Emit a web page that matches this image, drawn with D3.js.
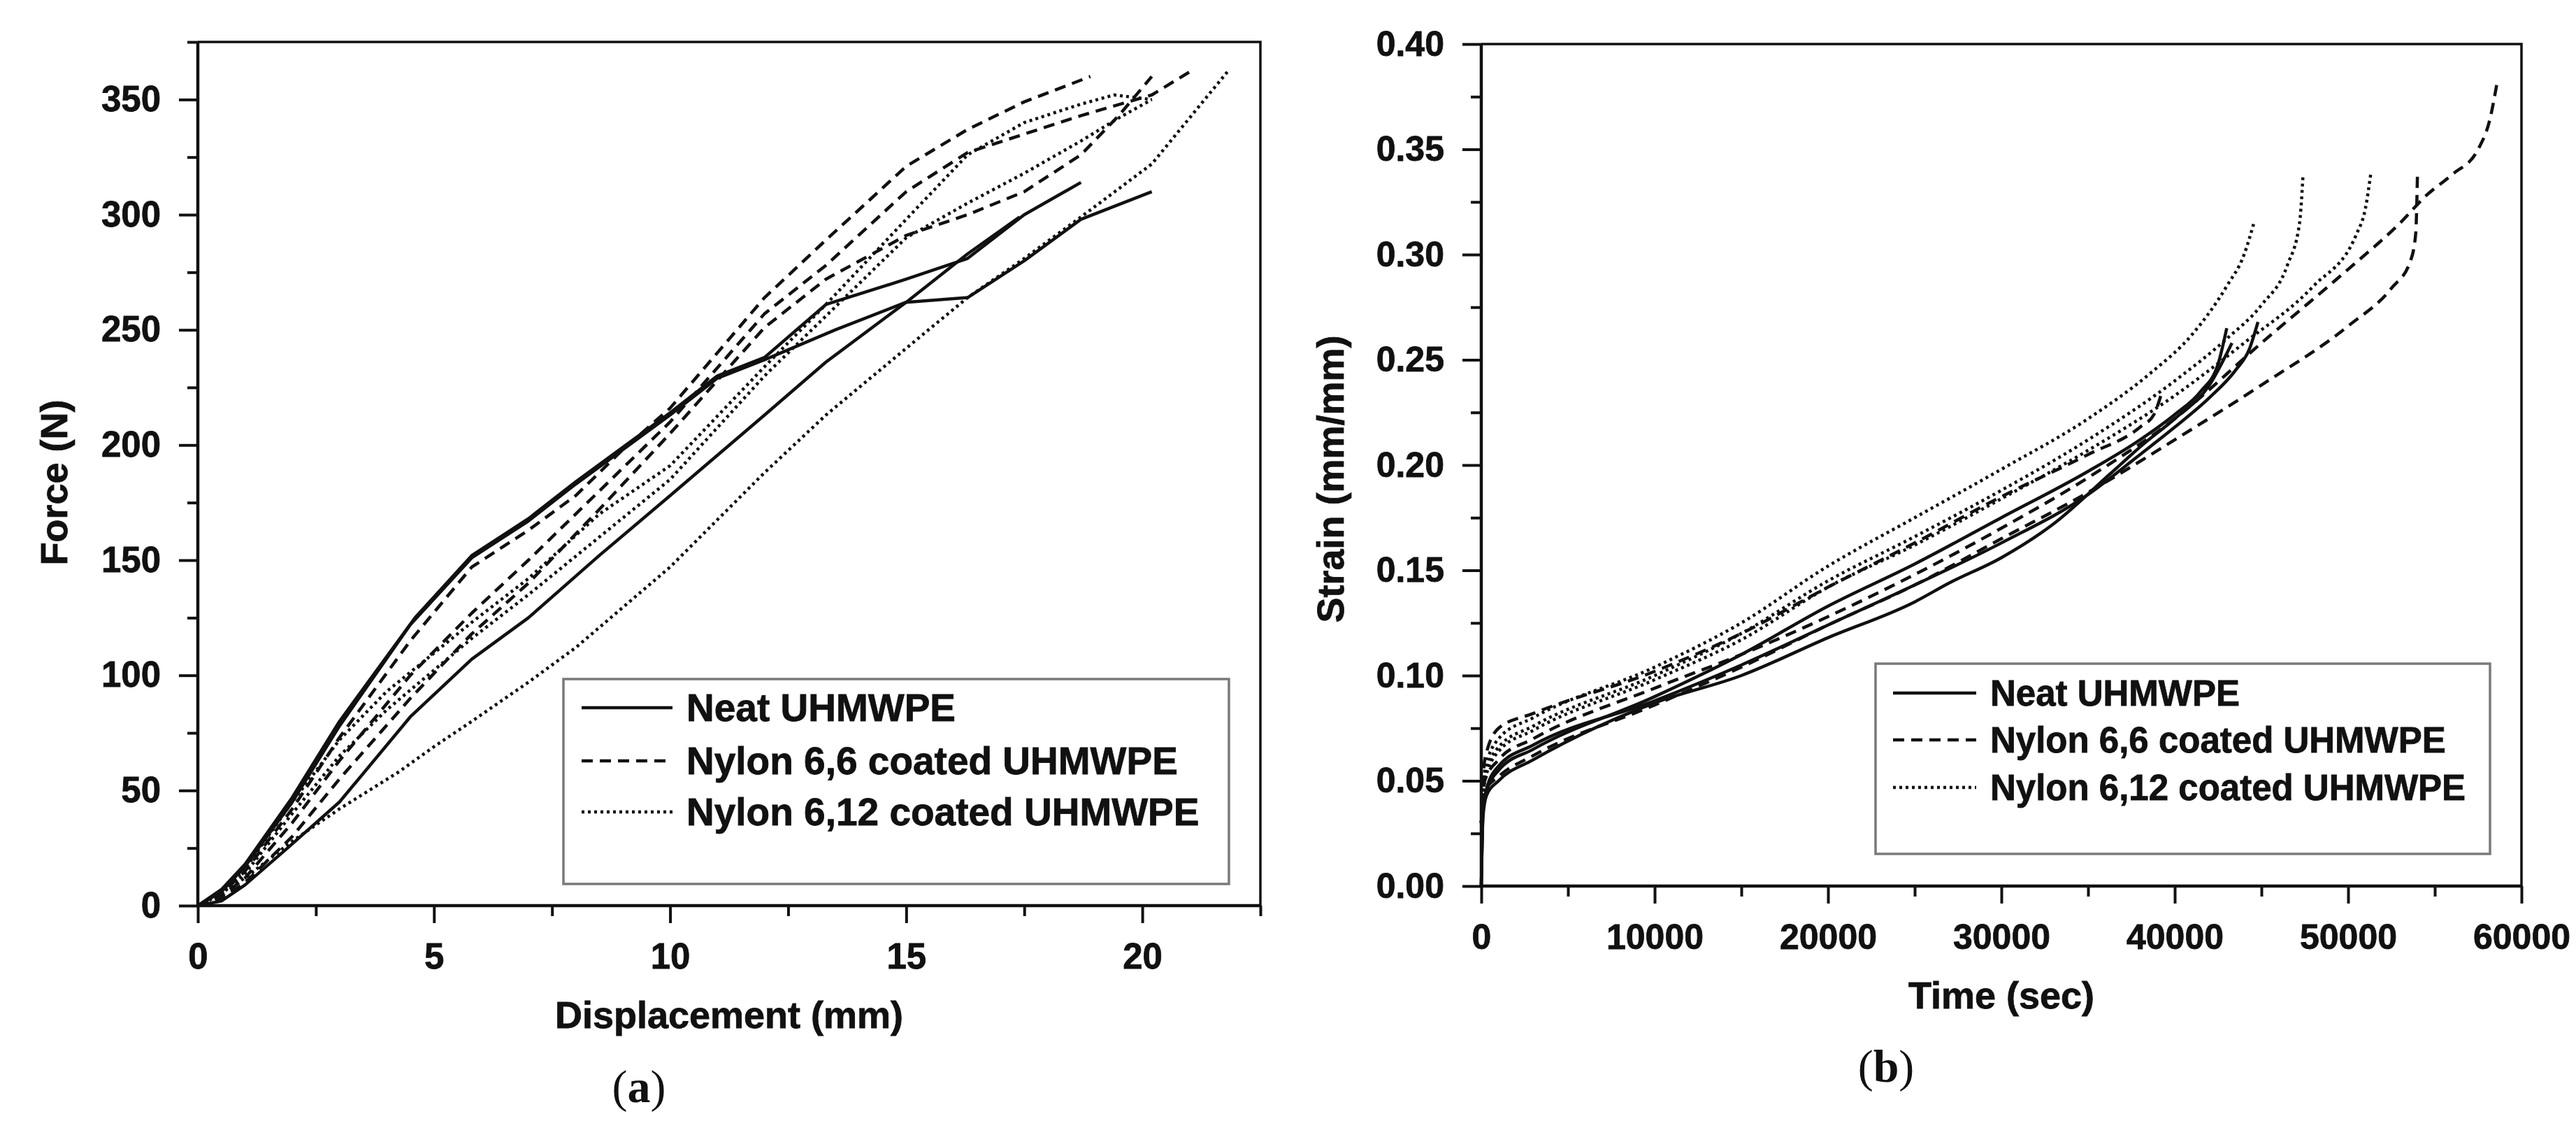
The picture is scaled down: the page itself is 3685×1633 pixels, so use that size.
<!DOCTYPE html>
<html>
<head>
<meta charset="utf-8">
<script src="https://cdn.jsdelivr.net/npm/d3@7"></script>
<style>
  body { margin: 0; background: #fff; }
  .tick text { font-family: "Liberation Sans", Arial, sans-serif; font-weight: bold; }
  .title, .legend text { font-family: "Liberation Sans", Arial, sans-serif; font-weight: bold; }
</style>
</head>
<body>
<div id="chart"></div>
<script>
/* CONSTANTS */
const width = 3685, height = 1633;
const ink = "#111";

/* DATA - panel (a): displacement (mm) vs force (N) */
const neatA1 = [[0,0],[0.5,7],[1,18],[2,47],[3,80],[4.6,125],[5.8,152],[7,168],[8,184],[9,199],[10,214],[11,230],[12,238],[13.3,261],[15,272],[16.3,281],[17.5,300],[18.7,314]];
const neatA2 = [[0,0],[0.5,6],[1,17],[2,45],[3,78],[4.5,122],[5.8,151],[7,167],[8,183],[9,198],[10,213],[11,229],[12,237],[13.5,250],[15,262],[16.3,264],[17.5,280],[18.7,298],[20.2,310]];
const neatA3 = [[0,0],[0.5,2],[1,9],[1.9,25],[3,45],[4.5,82],[5.8,107],[7,125],[8.5,152],[10,178],[12,213],[13.3,236],[15,262],[16.3,283],[17.4,299]];
const nylon66A1 = [[0,0],[0.5,5],[1,15],[2,42],[3,73],[4.5,115],[5.8,147],[7,163],[8,178],[9,198],[10,216],[11,240],[12,264],[13.3,289],[15,321],[16.3,337],[17.5,349],[18.9,360]];
const nylon66A2 = [[0,0],[0.5,4],[1,12],[2,36],[3,63],[4.5,100],[5.8,127],[7,150],[8.5,180],[10,210],[12,257],[13.3,278],[15,310],[16.3,327],[17.5,335],[18.7,343],[20.2,352],[21,362]];
const nylon66A3 = [[0,0],[0.5,3],[1,10],[2,30],[3,55],[4.5,90],[5.8,118],[7,140],[8.5,172],[10,205],[12,251],[13.3,272],[15,291],[16.3,300],[17.5,310],[18.7,326],[19.5,343],[20.2,360]];
const nylon612A1 = [[0,0],[1,12],[2,28],[3,42],[4.25,58],[5,69],[5.8,80],[7,97],[8,112],[10,147],[12,188],[13.3,213],[15,242],[16.3,264],[17.5,281],[18.7,299],[20.2,322],[21.8,362]];
const nylon612A2 = [[0,0],[0.5,5],[1,14],[2,40],[3,65],[4,85],[5.8,116],[7,135],[8.5,160],[10,185],[12,230],[13.3,256],[15,290],[16.3,305],[17.5,318],[18.7,332],[19.5,342],[20.2,350]];
const nylon612A3 = [[0,0],[0.5,6],[1,16],[2,45],[3,72],[4,93],[5.8,123],[7,142],[8.5,170],[10,191],[12,234],[13.3,261],[15,298],[16.3,326],[17.5,340],[18.7,348],[19.4,352],[20.2,350]];

/* DATA - panel (b): time (sec) vs strain (mm/mm) */
const neatB1 = [[0,0],[100,0.035],[300,0.045],[1000,0.055],[3000,0.065],[10000,0.090],[15000,0.110],[20000,0.133],[25000,0.153],[30000,0.175],[35000,0.197],[38000,0.212],[40000,0.224],[41500,0.235],[42500,0.248],[43000,0.265]];
const neatB2 = [[0,0],[100,0.036],[300,0.046],[1000,0.057],[3000,0.067],[10000,0.088],[15000,0.105],[20000,0.124],[25000,0.143],[30000,0.163],[35000,0.186],[38000,0.205],[40000,0.218],[42000,0.232],[43500,0.245],[44300,0.255],[44800,0.268]];
const neatB3 = [[0,0],[100,0.033],[300,0.043],[1000,0.050],[3000,0.060],[10000,0.087],[15000,0.100],[20000,0.118],[25000,0.135],[27000,0.144],[30000,0.156],[33000,0.172],[36300,0.196],[38200,0.210],[40000,0.222],[42000,0.238],[43300,0.258]];
const nylon66B1 = [[0,0.03],[200,0.045],[1000,0.052],[3000,0.062],[10000,0.086],[15000,0.104],[20000,0.124],[25000,0.143],[30000,0.165],[35000,0.187],[40000,0.212],[45000,0.238],[50000,0.266],[52500,0.284],[53600,0.297],[53900,0.310],[54000,0.338]];
const nylon66B2 = [[0,0.03],[200,0.050],[1000,0.060],[3000,0.070],[10000,0.094],[15000,0.110],[20000,0.128],[25000,0.148],[30000,0.170],[35000,0.194],[40000,0.222],[45000,0.258],[50000,0.293],[53000,0.315],[54500,0.328],[56000,0.338],[57500,0.350],[58200,0.365],[58600,0.382]];
const nylon66B3 = [[0,0.03],[200,0.060],[1000,0.075],[3000,0.082],[10000,0.102],[15000,0.120],[20000,0.142],[25000,0.163],[30000,0.185],[35000,0.205],[38000,0.218],[38800,0.224],[39200,0.233]];
const nylon612B1 = [[0,0.03],[200,0.055],[1000,0.070],[3000,0.080],[10000,0.104],[15000,0.125],[20000,0.152],[25000,0.175],[30000,0.198],[35000,0.222],[38500,0.243],[41000,0.262],[43000,0.285],[44000,0.300],[44600,0.316]];
const nylon612B2 = [[0,0.03],[200,0.052],[1000,0.066],[3000,0.076],[10000,0.100],[15000,0.120],[20000,0.145],[25000,0.166],[30000,0.188],[35000,0.212],[40000,0.240],[43000,0.260],[45000,0.276],[46500,0.295],[47200,0.315],[47400,0.338]];
const nylon612B3 = [[0,0.03],[200,0.050],[1000,0.064],[3000,0.074],[10000,0.098],[15000,0.117],[20000,0.142],[25000,0.162],[30000,0.184],[35000,0.207],[40000,0.233],[44000,0.258],[48000,0.285],[50500,0.310],[51000,0.322],[51300,0.338]];

/* TICKS AND LABELS */
const dispMajor = [0, 5, 10, 15, 20];
const dispMinor = [2.5, 7.5, 12.5, 17.5, 22.5];
const forceMajor = [0, 50, 100, 150, 200, 250, 300, 350];
const forceMinor = [25, 75, 125, 175, 225, 275, 325, 375];
const timeMajor = [0, 10000, 20000, 30000, 40000, 50000, 60000];
const timeMinor = [5000, 15000, 25000, 35000, 45000, 55000];
const strainMajor = [0, 0.05, 0.10, 0.15, 0.20, 0.25, 0.30, 0.35, 0.40];
const strainMinor = [0.025, 0.075, 0.125, 0.175, 0.225, 0.275, 0.325, 0.375];
const legendLabels = ["Neat UHMWPE", "Nylon 6,6 coated UHMWPE", "Nylon 6,12 coated UHMWPE"];

const dashes = { solid: null, dashed: "16,10", dotted: "4,5" };
const lineWidth = 4.5;

const svg = d3.select("#chart")
  .append("svg")
  .attr("width", width)
  .attr("height", height)
  .style("background", "#fff");

function styleAxis(g) {
  g.select(".domain").remove();
  g.selectAll(".tick line").attr("stroke", ink).attr("stroke-width", 4);
  g.selectAll(".tick text").attr("fill", ink).attr("stroke", ink).attr("stroke-width", 0.8);
}

function drawPanel(p) {
  const x = d3.scaleLinear().domain(p.xDomain).range([p.left, p.right]);
  const y = d3.scaleLinear().domain(p.yDomain).range([p.bottom, p.top]);
  const g = svg.append("g");

  const line = d3.line().x(d => x(d[0])).y(d => y(d[1])).curve(p.curve);

  p.series.forEach(s => {
    s.curves.forEach(c => {
      g.append("path")
        .datum(c)
        .attr("d", line)
        .attr("fill", "none")
        .attr("stroke", ink)
        .attr("stroke-width", lineWidth)
        .attr("stroke-linejoin", "round")
        .attr("stroke-dasharray", dashes[s.style]);
    });
  });

  // x axis: major with labels, minor without
  g.append("g")
    .attr("transform", `translate(0,${p.bottom})`)
    .call(d3.axisBottom(x).tickValues(p.xMajor).tickSize(25).tickPadding(29).tickFormat(p.xFormat))
    .call(styleAxis)
    .selectAll("text").attr("font-size", p.tickFont);
  g.append("g")
    .attr("transform", `translate(0,${p.bottom})`)
    .call(d3.axisBottom(x).tickValues(p.xMinor).tickSize(15).tickFormat(""))
    .call(styleAxis);

  g.append("g")
    .attr("transform", `translate(${p.left},0)`)
    .call(d3.axisLeft(y).tickValues(p.yMajor).tickSize(27).tickPadding(26).tickFormat(p.yFormat))
    .call(styleAxis)
    .selectAll("text").attr("font-size", p.tickFont);
  g.append("g")
    .attr("transform", `translate(${p.left},0)`)
    .call(d3.axisLeft(y).tickValues(p.yMinor).tickSize(15).tickFormat(""))
    .call(styleAxis);

  // frame
  g.append("path")
    .attr("d", `M${p.left},${p.top}V${p.bottom}H${p.right}`)
    .attr("fill", "none").attr("stroke", ink).attr("stroke-width", 4.5);
  g.append("path")
    .attr("d", `M${p.left},${p.top}H${p.right}V${p.bottom}`)
    .attr("fill", "none").attr("stroke", ink).attr("stroke-width", 3.5);

  // axis titles
  g.append("text").attr("class", "title")
    .attr("x", (p.left + p.right) / 2).attr("y", p.xTitleY)
    .attr("text-anchor", "middle").attr("dominant-baseline", "central")
    .attr("font-size", 54).attr("fill", ink).attr("stroke", ink).attr("stroke-width", 0.8)
    .text(p.xTitle);
  g.append("text").attr("class", "title")
    .attr("transform", `translate(${p.yTitleX},${p.yTitleY}) rotate(-90)`)
    .attr("text-anchor", "middle").attr("dominant-baseline", "central")
    .attr("font-size", 54).attr("fill", ink).attr("stroke", ink).attr("stroke-width", 0.8)
    .text(p.yTitle);

  // legend
  const lg = g.append("g").attr("class", "legend");
  lg.append("rect")
    .attr("x", p.legend.x).attr("y", p.legend.y)
    .attr("width", p.legend.w).attr("height", p.legend.h)
    .attr("fill", "#fff").attr("stroke", "#7a7a7a").attr("stroke-width", 3.5);
  p.series.forEach((s, i) => {
    const ly = p.legend.rows[i];
    lg.append("line")
      .attr("x1", p.legend.lineX[0]).attr("x2", p.legend.lineX[1])
      .attr("y1", ly).attr("y2", ly)
      .attr("stroke", ink).attr("stroke-width", lineWidth)
      .attr("stroke-dasharray", dashes[s.style]);
    lg.append("text")
      .attr("x", p.legend.textX).attr("y", ly)
      .attr("dominant-baseline", "central")
      .attr("font-size", p.legend.font).attr("fill", ink)
      .attr("stroke", ink).attr("stroke-width", 0.8)
      .text(legendLabels[i]);
  });

  // caption
  const cap = svg.append("text")
    .attr("x", p.caption.x).attr("y", p.caption.y)
    .attr("text-anchor", "middle").attr("dominant-baseline", "central")
    .attr("font-family", "'Liberation Serif', 'Times New Roman', serif")
    .attr("font-size", 66).attr("fill", ink);
  cap.append("tspan").text("(");
  cap.append("tspan").attr("font-weight", "bold").text(p.caption.letter);
  cap.append("tspan").text(")");
}

drawPanel({
  left: 283, right: 1803, top: 60, bottom: 1295,
  xDomain: [0, 22.5], yDomain: [0, 375],
  xMajor: dispMajor, xMinor: dispMinor, yMajor: forceMajor, yMinor: forceMinor,
  xFormat: d3.format("d"), yFormat: d3.format("d"),
  tickFont: 51,
  curve: d3.curveLinear,
  xTitle: "Displacement (mm)", xTitleY: 1451,
  yTitle: "Force (N)", yTitleX: 77, yTitleY: 690,
  series: [
    { style: "solid", curves: [neatA1, neatA2, neatA3] },
    { style: "dashed", curves: [nylon66A1, nylon66A2, nylon66A3] },
    { style: "dotted", curves: [nylon612A1, nylon612A2, nylon612A3] }
  ],
  legend: { x: 806, y: 971, w: 952, h: 293, rows: [1012, 1088, 1161], lineX: [832, 962], textX: 982, font: 55 },
  caption: { x: 914, y: 1553, letter: "a" }
});

drawPanel({
  left: 2119, right: 3607, top: 63, bottom: 1267,
  xDomain: [0, 60000], yDomain: [0, 0.40],
  xMajor: timeMajor, xMinor: timeMinor, yMajor: strainMajor, yMinor: strainMinor,
  xFormat: d3.format("d"), yFormat: d3.format(".2f"),
  tickFont: 50,
  curve: d3.curveMonotoneX,
  xTitle: "Time (sec)", xTitleY: 1423,
  yTitle: "Strain (mm/mm)", yTitleX: 1903, yTitleY: 685,
  series: [
    { style: "solid", curves: [neatB1, neatB2, neatB3] },
    { style: "dashed", curves: [nylon66B1, nylon66B2, nylon66B3] },
    { style: "dotted", curves: [nylon612B1, nylon612B2, nylon612B3] }
  ],
  legend: { x: 2683, y: 949, w: 879, h: 272, rows: [991, 1058, 1126], lineX: [2708, 2827], textX: 2847, font: 51 },
  caption: { x: 2698, y: 1524, letter: "b" }
});
</script>
</body>
</html>
